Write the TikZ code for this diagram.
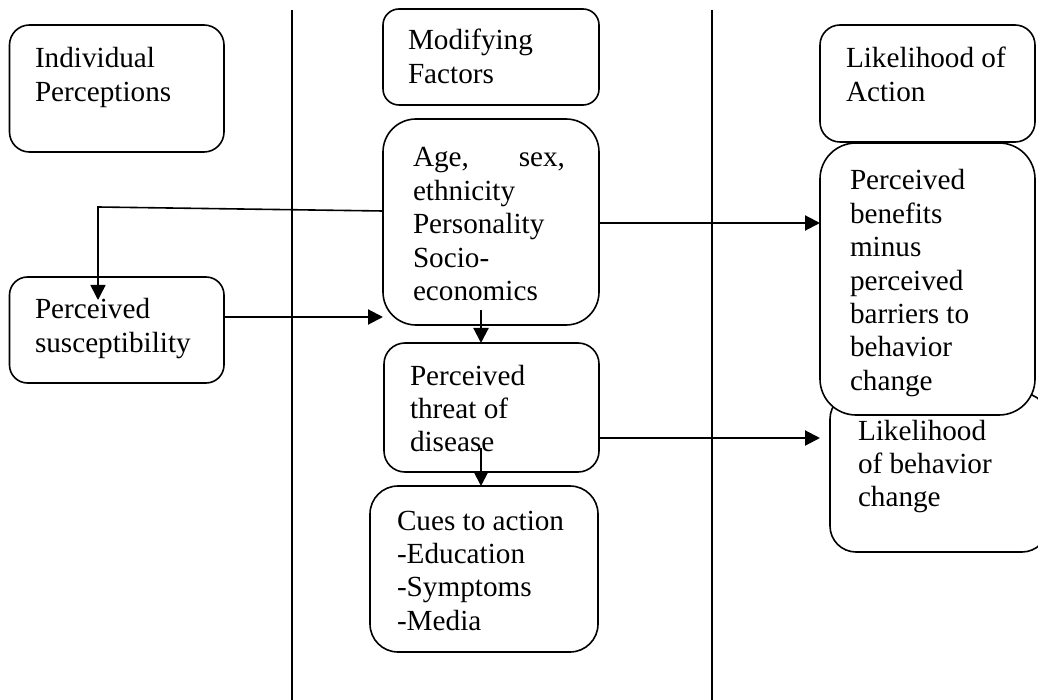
\documentclass[tikz,border=0pt]{standalone}
\usepackage{fontspec}
\setmainfont{Liberation Serif}
\usetikzlibrary{arrows.meta}
% stacked lines of a label; the node's baseline is the first line's baseline
\newcommand{\txtlines}[1]{\vtop{\baselineskip=33.4pt\lineskiplimit=-100pt\relax #1}}
\tikzset{
  box/.style={draw, line width=1.6pt, fill=white, rounded corners=#1,
    inner sep=0pt, outer sep=0pt, anchor=north west},
  lbl/.style={anchor=base west, inner sep=0pt, outer sep=0pt,
    font=\fontsize{29.2}{33.4}\selectfont},
  arr/.style={line width=2.1pt, -{Triangle[length=15pt,width=15pt]}},
  divider/.style={line width=1.3pt}
}
\begin{document}
\begin{tikzpicture}[x=1pt,y=-1pt]
\useasboundingbox (0,0) rectangle (1038,700);

% column dividers
\coordinate (d1top) at (292,10);
\coordinate (d1bot) at (292,700);
\coordinate (d2top) at (712,10);
\coordinate (d2bot) at (712,700);
\draw[divider] (d1top) -- (d1bot);
\draw[divider] (d2top) -- (d2bot);

% left column
\node[box=20pt, minimum width=214.5pt, minimum height=127pt] (ind) at (9.5,25) {};
\node[lbl] (indT) at (35,68) {\txtlines{\hbox{Individual}\hbox{Perceptions}}};
\node[box=18pt, minimum width=214.5pt, minimum height=106pt] (susc) at (9.5,277) {};
\node[lbl] (suscT) at (35,319) {\txtlines{\hbox{Perceived}\hbox{susceptibility}}};

% middle column
\node[box=16pt, minimum width=216pt, minimum height=96pt] (mod) at (383,9) {};
\node[lbl] (modT) at (408,50) {\txtlines{\hbox{Modifying}\hbox{Factors}}};
\node[box=33pt, minimum width=216pt, minimum height=206pt] (age) at (383,119) {};
\node[lbl] (ageT) at (413,167) {\txtlines{\hbox to 152pt{Age,\hfill sex,}\hbox{ethnicity}\hbox{Personality}\hbox{Socio-}\hbox{economics}}};
\node[box=21pt, minimum width=215pt, minimum height=129pt] (threat) at (384,343) {};
\node[lbl] (threatT) at (410,385) {\txtlines{\hbox{Perceived}\hbox{threat of}\hbox{disease}}};
\node[box=28pt, minimum width=228pt, minimum height=166pt] (cues) at (370,486) {};
\node[lbl] (cuesT) at (397,530) {\txtlines{\hbox{Cues to action}\hbox{-Education}\hbox{-Symptoms}\hbox{-Media}}};

% right column
\node[box=20pt, minimum width=215pt, minimum height=117pt] (act) at (820,25) {};
\node[lbl] (actT) at (846,68) {\txtlines{\hbox{Likelihood of}\hbox{Action}}};
\node[box=26pt, minimum width=218pt, minimum height=159pt] (beh) at (830,393) {};
\node[lbl] (behT) at (858,440) {\txtlines{\hbox{Likelihood}\hbox{of behavior}\hbox{change}}};
\node[box=36pt, minimum width=215pt, minimum height=272pt] (ben) at (820,143) {};
\node[lbl] (benT) at (850,190) {\txtlines{\hbox{Perceived}\hbox{benefits}\hbox{minus}\hbox{perceived}\hbox{barriers to}\hbox{behavior}\hbox{change}}};

% connectors
\coordinate (fbk) at (98,207);
\coordinate (fbkTip) at (98,300);
\draw[arr, line width=1.6pt] (age.west |- 0,211) -- (fbk) -- (fbkTip);
\draw[arr] (susc.east |- 0,317) -- (age.west |- 0,317);
\draw[arr] (age.east |- 0,223) -- (ben.west |- 0,223);
\draw[arr] (threat.east |- 0,438) -- (ben.west |- 0,438);
\coordinate (ageOut) at (481,310);
\coordinate (threatOut) at (481,448);
\draw[arr] (ageOut) -- (ageOut |- threat.north);
\draw[arr] (threatOut) -- (threatOut |- cues.north);
\end{tikzpicture}
\end{document}
